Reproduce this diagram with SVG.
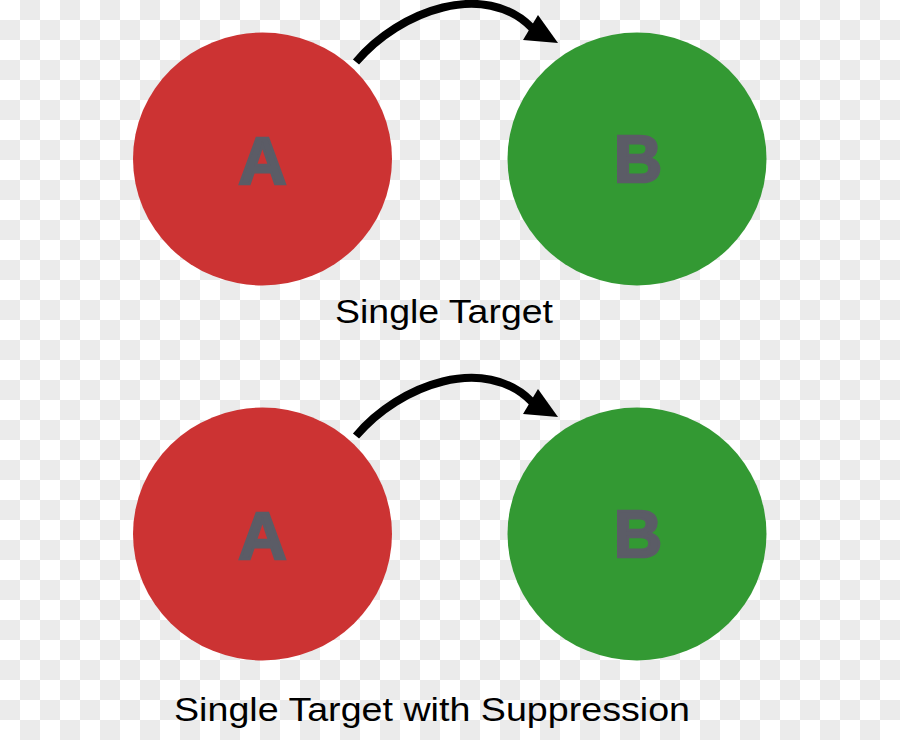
<svg xmlns="http://www.w3.org/2000/svg" width="900" height="740" viewBox="0 0 900 740">
<defs>
<pattern id="checker" x="0" y="0" width="40" height="40" patternUnits="userSpaceOnUse">
<rect x="0" y="0" width="40" height="40" fill="#ffffff"/>
<rect x="20" y="0" width="20" height="20" fill="#ebebeb"/>
<rect x="0" y="20" width="20" height="20" fill="#ebebeb"/>
</pattern>
<g id="arrow">
<path d="M 356 62 C 400 10, 485 -20, 532 28" fill="none" stroke="#000000" stroke-width="8"/>
<polygon points="558,43 538,15 523,40" fill="#000000"/>
</g>
</defs>
<style>
.red{fill:#cc3333}
.green{fill:#339933}
.letter{font-family:"Liberation Sans",Arial,sans-serif;font-weight:bold;font-size:67px;fill:#5b5c66;stroke:#5b5c66;stroke-width:2.5;stroke-linejoin:miter;text-anchor:middle}
.caption{font-family:"Liberation Sans",Arial,sans-serif;font-size:34px;fill:#000000}
</style>
<rect x="0" y="0" width="900" height="740" fill="url(#checker)"/>
<g id="connectors">
<use href="#arrow"/>
<use href="#arrow" transform="translate(0,374)"/>
</g>
<g id="nodeA1">
<ellipse class="red" cx="262.5" cy="159" rx="129.5" ry="126.5"/>
<text class="letter" x="262.5" y="184">A</text>
</g>
<g id="nodeB1">
<ellipse class="green" cx="637" cy="159" rx="129.5" ry="126.5"/>
<text class="letter" x="638" y="182">B</text>
</g>
<g id="nodeA2">
<ellipse class="red" cx="262.5" cy="534" rx="129.5" ry="126.5"/>
<text class="letter" x="262.5" y="559">A</text>
</g>
<g id="nodeB2">
<ellipse class="green" cx="637" cy="534" rx="129.5" ry="126.5"/>
<text class="letter" x="638" y="557">B</text>
</g>
<text class="caption" x="335" y="323" textLength="218" lengthAdjust="spacingAndGlyphs">Single Target</text>
<text class="caption" x="174" y="721" font-size="36" textLength="516" lengthAdjust="spacingAndGlyphs">Single Target with Suppression</text>
</svg>
